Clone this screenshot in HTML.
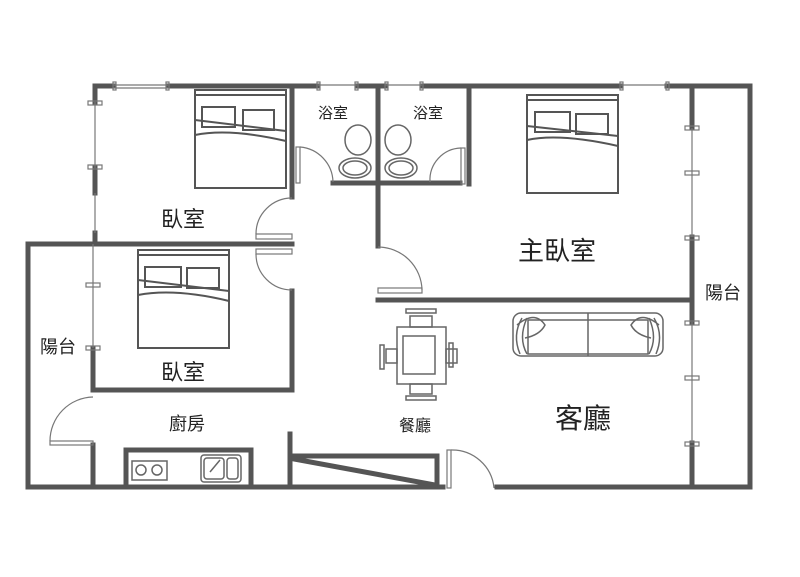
<!DOCTYPE html>
<html><head><meta charset="utf-8"><style>
html,body{margin:0;padding:0;background:#fff;}
svg{display:block;}
text{font-family:"Liberation Sans","Noto Sans CJK TC",sans-serif;fill:#222;}
</style></head><body>
<svg width="800" height="577" viewBox="0 0 800 577" xmlns="http://www.w3.org/2000/svg">
<g stroke="#555" stroke-width="5" fill="none" stroke-linecap="square">
<!-- top wall -->
<line x1="95" y1="86" x2="113" y2="86"/>
<line x1="168" y1="86" x2="318" y2="86"/>
<line x1="357" y1="86" x2="385" y2="86"/>
<line x1="422" y1="86" x2="621" y2="86"/>
<line x1="667" y1="86" x2="750" y2="86"/>
<!-- left wall of upper bedroom -->
<line x1="95" y1="86" x2="95" y2="102"/>
<line x1="95" y1="168" x2="95" y2="193"/>
<line x1="95" y1="233" x2="95" y2="244"/>
<!-- horizontal y244 -->
<line x1="28" y1="244" x2="292" y2="244"/>
<!-- bedroom1 right wall -->
<line x1="292" y1="86" x2="292" y2="197"/>
<line x1="292" y1="291" x2="292" y2="390"/>
<!-- bath -->
<line x1="333" y1="183" x2="460" y2="183"/>
<line x1="378" y1="86" x2="378" y2="246"/>
<line x1="469" y1="86" x2="469" y2="184"/>
<!-- master bottom -->
<line x1="378" y1="300" x2="692" y2="300"/>
<!-- right inner wall -->
<line x1="692" y1="86" x2="692" y2="128"/>
<line x1="692" y1="237" x2="692" y2="322"/>
<line x1="692" y1="443" x2="692" y2="487"/>
<!-- outer right -->
<line x1="750" y1="86" x2="750" y2="487"/>
<!-- bottom -->
<line x1="28" y1="487" x2="443" y2="487"/>
<line x1="497" y1="487" x2="750" y2="487"/>
<!-- left outer -->
<line x1="28" y1="244" x2="28" y2="487"/>
<!-- balcony inner -->
<line x1="93" y1="348" x2="93" y2="390"/>
<line x1="93" y1="390" x2="292" y2="390"/>
<line x1="93" y1="445" x2="93" y2="487"/>
<!-- kitchen stub -->
<line x1="290" y1="434" x2="290" y2="487"/>
<line x1="292" y1="456" x2="437" y2="456"/>
<line x1="437" y1="456" x2="437" y2="487"/>
<line x1="294" y1="459" x2="435" y2="485"/>
<!-- counter -->
<path d="M126 487 V450 H251 V487"/>
</g>
<g stroke="#777" stroke-width="1.2" fill="none">
<!-- windows thin lines -->
<line x1="113" y1="85" x2="168" y2="85"/><line x1="113" y1="88" x2="168" y2="88"/>
<line x1="318" y1="85" x2="357" y2="85"/><line x1="385" y1="85" x2="422" y2="85"/>
<line x1="621" y1="85" x2="667" y2="85"/>
<line x1="95" y1="102" x2="95" y2="168"/><line x1="95" y1="193" x2="95" y2="233"/>
<line x1="93" y1="244" x2="93" y2="348"/>
<line x1="692" y1="128" x2="692" y2="237"/><line x1="692" y1="322" x2="692" y2="443"/>
<!-- ticks -->
<rect x="88" y="101" width="14" height="4"/><rect x="88" y="165" width="14" height="4"/>
<rect x="86" y="283" width="14" height="4"/><rect x="86" y="346" width="14" height="4"/>
<rect x="685" y="126" width="14" height="4"/><rect x="685" y="171" width="14" height="4"/><rect x="685" y="236" width="14" height="4"/>
<rect x="685" y="321" width="14" height="4"/><rect x="685" y="376" width="14" height="4"/><rect x="685" y="442" width="14" height="4"/>
<rect x="113" y="82" width="3" height="8"/><rect x="166" y="82" width="3" height="8"/>
<rect x="317" y="82" width="3" height="8"/><rect x="355" y="82" width="3" height="8"/>
<rect x="385" y="82" width="3" height="8"/><rect x="420" y="82" width="3" height="8"/>
<rect x="620" y="82" width="3" height="8"/><rect x="666" y="82" width="3" height="8"/>
<!-- doors -->
<rect x="256" y="234" width="36" height="5"/><path d="M256 234 A36 36 0 0 1 292 198"/>
<rect x="256" y="249" width="36" height="5"/><path d="M256 254 A36 36 0 0 0 292 290"/>
<rect x="378" y="288" width="44" height="5"/><path d="M378 247 A44 44 0 0 1 422 290"/>
<rect x="296" y="147" width="4" height="36"/><path d="M300 147 A36 36 0 0 1 333 182"/>
<rect x="461" y="148" width="4" height="36"/><path d="M461 148 A32 32 0 0 0 430 182"/>
<rect x="50" y="441" width="43" height="4"/><path d="M50 441 A44 44 0 0 1 93 397"/>
<rect x="447" y="450" width="4" height="38"/><path d="M451 450 A42 42 0 0 1 494 488"/>
</g>
<g stroke="#555" stroke-width="2" fill="none">
<!-- beds -->
<rect x="195" y="90" width="91" height="98"/><line x1="195" y1="95" x2="286" y2="95"/>
<rect x="202" y="107" width="33" height="20"/><rect x="243" y="110" width="31" height="20"/>
<path d="M195 120 L286 131 M195 135 Q230 128 286 141"/>
<rect x="138" y="250" width="91" height="98"/><line x1="138" y1="255" x2="229" y2="255"/>
<rect x="145" y="267" width="36" height="20"/><rect x="187" y="268" width="32" height="20"/>
<path d="M138 280 L229 291 M138 295 Q175 288 229 301"/>
<rect x="527" y="95" width="91" height="98"/><line x1="527" y1="100" x2="618" y2="100"/>
<rect x="535" y="112" width="35" height="20"/><rect x="576" y="114" width="32" height="20"/>
<path d="M527 126 L618 136 M527 140 Q560 133 618 146"/>
</g>
<g stroke="#666" stroke-width="1.5" fill="none">
<!-- dining -->
<rect x="397" y="327" width="49" height="57"/><rect x="403" y="336" width="32" height="38"/>
<rect x="410" y="316" width="22" height="11"/><rect x="406" y="309" width="30" height="4"/>
<rect x="410" y="384" width="22" height="10"/><rect x="406" y="396" width="30" height="4"/>
<rect x="386" y="349" width="11" height="14"/><rect x="380" y="345" width="4" height="24"/>
<rect x="446" y="349" width="11" height="14"/><rect x="449" y="343" width="4" height="24"/>
<!-- sofa -->
<rect x="513" y="313" width="150" height="43" rx="8"/><line x1="588" y1="313" x2="588" y2="356"/>
<rect x="528" y="320" width="120" height="34"/>
<path d="M522 318 Q512 335 520 354 M527 318 Q518 338 527 354 M517 325 Q535 310 545 325 Q540 335 525 338"/>
<path d="M654 318 Q664 335 656 354 M649 318 Q658 338 649 354 M659 325 Q641 310 631 325 Q636 335 651 338"/>
<!-- toilets/sinks -->
<ellipse cx="358" cy="140" rx="13" ry="15"/><ellipse cx="398" cy="140" rx="13" ry="15"/>
<ellipse cx="355" cy="168" rx="16" ry="10"/><ellipse cx="401" cy="168" rx="16" ry="10"/>
<ellipse cx="355" cy="168" rx="12" ry="7"/><ellipse cx="401" cy="168" rx="12" ry="7"/>
<!-- stove/sink -->
<rect x="132" y="461" width="35" height="19"/><circle cx="141" cy="470" r="5"/><circle cx="157" cy="470" r="5"/>
<rect x="201" y="455" width="40" height="27" rx="3"/><rect x="204" y="458" width="20" height="21" rx="3"/><rect x="227" y="458" width="11" height="21" rx="3"/>
<line x1="210" y1="472" x2="220" y2="460"/>
</g>
<text x="183" y="227" font-size="22" text-anchor="middle">臥室</text>
<text x="183" y="380" font-size="22" text-anchor="middle">臥室</text>
<text x="557" y="260" font-size="26" text-anchor="middle">主臥室</text>
<text x="723" y="299" font-size="18" text-anchor="middle">陽台</text>
<text x="58" y="353" font-size="18" text-anchor="middle">陽台</text>
<text x="187" y="430" font-size="18" text-anchor="middle">廚房</text>
<text x="415" y="431" font-size="16" text-anchor="middle">餐廳</text>
<text x="583" y="428" font-size="28" text-anchor="middle">客廳</text>
<text x="333" y="118" font-size="15" text-anchor="middle">浴室</text>
<text x="428" y="118" font-size="15" text-anchor="middle">浴室</text>
</svg>
</body></html>
